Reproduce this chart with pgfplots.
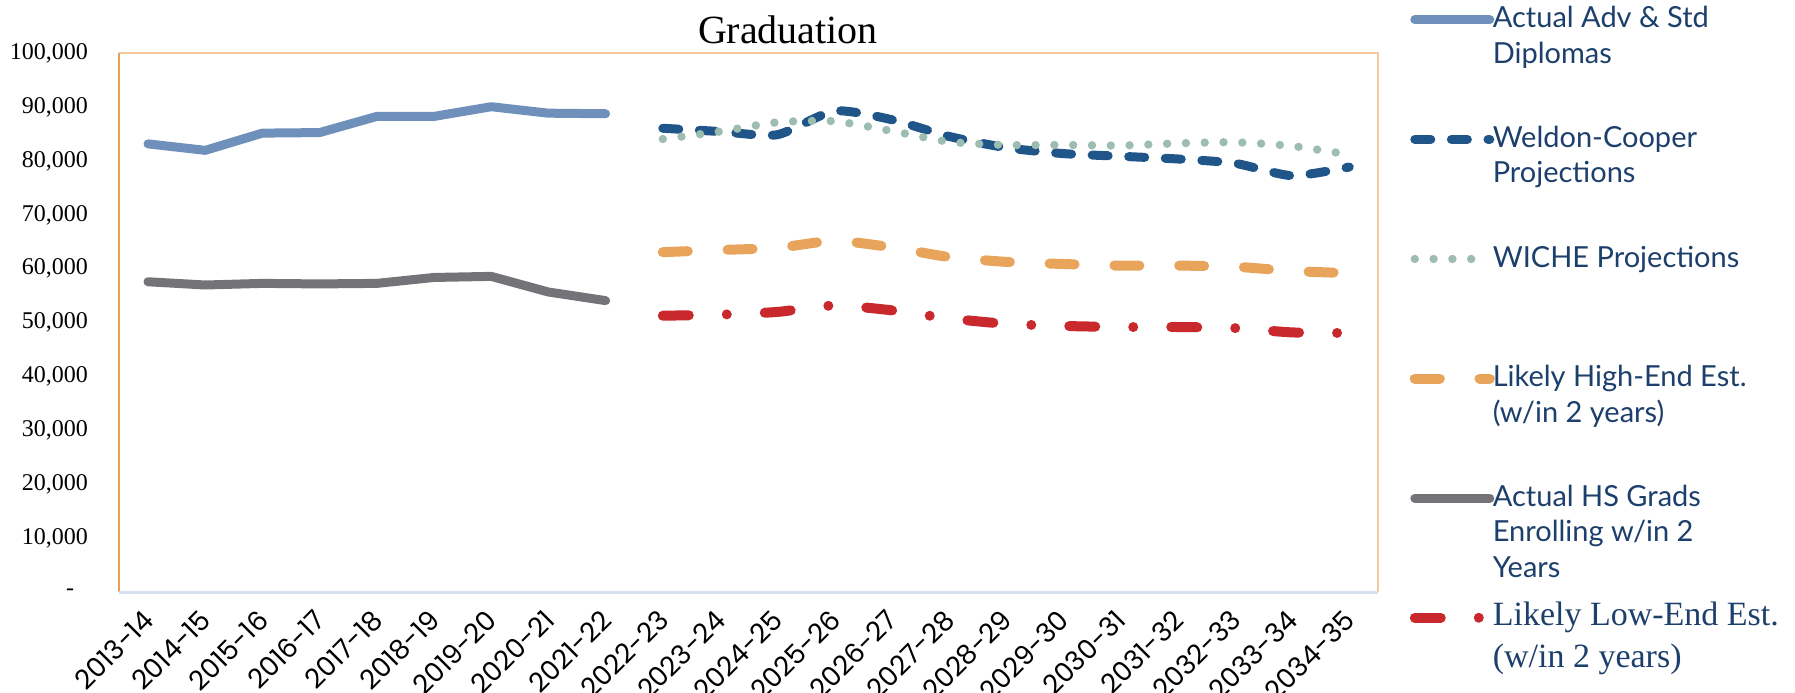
\documentclass[border=0pt]{standalone}
\usepackage{fontspec}
\setmainfont{Liberation Serif}
\newfontfamily\latofont{Lato}
\newfontfamily\popfont[Numbers=Monospaced]{Poppins}
\newfontfamily\seriffont{Liberation Serif}
\usepackage{pgfplots}
\pgfplotsset{compat=1.18}
\definecolor{advblue}{HTML}{6E90BB}
\definecolor{wcblue}{HTML}{1F5589}
\definecolor{wiche}{HTML}{9DBDB1}
\definecolor{highor}{HTML}{E8A45A}
\definecolor{hsgray}{HTML}{747478}
\definecolor{lowred}{HTML}{C9282D}
\definecolor{legtext}{HTML}{1C3F6B}
\definecolor{bordtop}{HTML}{F5C99B}
\definecolor{bordleft}{HTML}{E6A157}
\definecolor{bordbot}{HTML}{D6E0EE}
\newcommand{\legrow}[1]{\parbox[t]{170pt}{\raggedright #1}}
\begin{document}
\begin{tikzpicture}
\useasboundingbox (0,0) rectangle (897.5pt,346pt);
\begin{axis}[
  at={(59.7pt,50pt)}, anchor=south west,
  width=629.2pt, height=269.3pt, scale only axis,
  xmin=-0.5, xmax=21.5, ymin=0, ymax=100000,
  scaled y ticks=false,
  axis line style={draw=none},
  major tick length=0pt,
  clip=false,
  xtick={0,...,21},
  xticklabels={2013-14,2014-15,2015-16,2016-17,2017-18,2018-19,2019-20,2020-21,2021-22,2022-23,2023-24,2024-25,2025-26,2026-27,2027-28,2028-29,2029-30,2030-31,2031-32,2032-33,2033-34,2034-35},
  ytick={0,10000,20000,30000,40000,50000,60000,70000,80000,90000,100000},
  yticklabels={-\hspace*{7pt},{10,000},{20,000},{30,000},{40,000},{50,000},{60,000},{70,000},{80,000},{90,000},{100,000}},
  xticklabel style={xshift=0.5pt, yshift=-11.5pt, rotate=45, anchor=east, inner sep=0pt, font=\popfont\fontsize{13.5}{15}\selectfont},
  yticklabel style={font=\seriffont\fontsize{12}{14}\selectfont, inner sep=0pt, xshift=-15.5pt},
  legend image code/.code={\draw[#1] (0pt,22pt) -- (37.5pt,22pt);},
  legend cell align=left,
  legend style={draw=none, fill=none, inner sep=0pt, outer sep=0pt,
    at={(1.02542,1.0918)}, anchor=north west,
    row sep=0pt, column sep=-1pt,
    nodes={inner sep=0pt, outer sep=0pt, text=legtext, text height=12pt, text depth=47.8pt},
    font=\latofont\fontsize{14.5}{17.7}\selectfont},
  every axis plot/.append style={line cap=round, line join=round},
  after end axis/.code={
    \draw[bordtop, line width=1pt] (rel axis cs:0,1) -- (rel axis cs:1,1) -- (rel axis cs:1,0);
    \draw[bordleft, line width=1pt] (rel axis cs:0,0) -- (rel axis cs:0,1);
    \draw[bordbot, line width=1.5pt] (rel axis cs:0,0) -- (rel axis cs:1,0);
  },
]
% Actual Adv & Std Diplomas
\addplot[advblue, line width=4.5pt] coordinates {
 (0,83200) (1,82000) (2,85200) (3,85300) (4,88300) (5,88300) (6,90100) (7,88900) (8,88800)};
\addlegendentry{\legrow{Actual Adv \& Std\\Diplomas}}
% Weldon-Cooper
\addplot[wcblue, line width=4.5pt, dash pattern=on 8pt off 10.3pt, smooth, tension=0.4] coordinates {
 (9,86100) (10,85500) (11,84900) (12,89300) (13,87700) (14,84600) (15,82500) (16,81400) (17,80900) (18,80400) (19,79600) (20,77300) (21,78900)};
\addlegendentry{\legrow{Weldon-Cooper\\Projections}}
% WICHE
\addplot[wiche, line width=4.2pt, dash pattern=on 0pt off 9.4pt, smooth, tension=0.4] coordinates {
 (9,84100) (10,85500) (11,87200) (12,87400) (13,85600) (14,83600) (15,83000) (16,83000) (17,82900) (18,83300) (19,83500) (20,82800) (21,81200)};
\addlegendentry{\legrow{WICHE Projections}}
% Likely High-End
\addplot[highor, line width=5pt, dash pattern=on 12.5pt off 19.9pt, smooth, tension=0.4] coordinates {
 (9,63100) (10,63500) (11,63900) (12,65200) (13,64000) (14,62200) (15,61300) (16,60900) (17,60600) (18,60600) (19,60400) (20,59600) (21,59200)};
\addlegendentry{\legrow{Likely High-End Est.\\(w/in 2 years)}}
% Actual HS Grads
\addplot[hsgray, line width=4.5pt] coordinates {
 (0,57600) (1,57000) (2,57300) (3,57200) (4,57300) (5,58400) (6,58600) (7,55700) (8,54100)};
\addlegendentry{\legrow{Actual HS Grads\\Enrolling w/in 2\\Years}}
% Likely Low-End
\addplot[lowred, line width=5pt, dash pattern=on 13pt off 19pt on 0pt off 19pt, smooth, tension=0.4] coordinates {
 (9,51300) (10,51500) (11,52000) (12,53200) (13,52300) (14,50800) (15,49800) (16,49400) (17,49200) (18,49200) (19,49000) (20,48200) (21,48100)};
\addlegendentry{\legrow{\seriffont\fontsize{17}{20.6}\selectfont Likely Low-End Est.\\(w/in 2 years)}}
\end{axis}
\node[anchor=base, font=\seriffont\fontsize{20}{24}\selectfont] at (394pt,324.3pt) {Graduation};
\end{tikzpicture}
\end{document}
